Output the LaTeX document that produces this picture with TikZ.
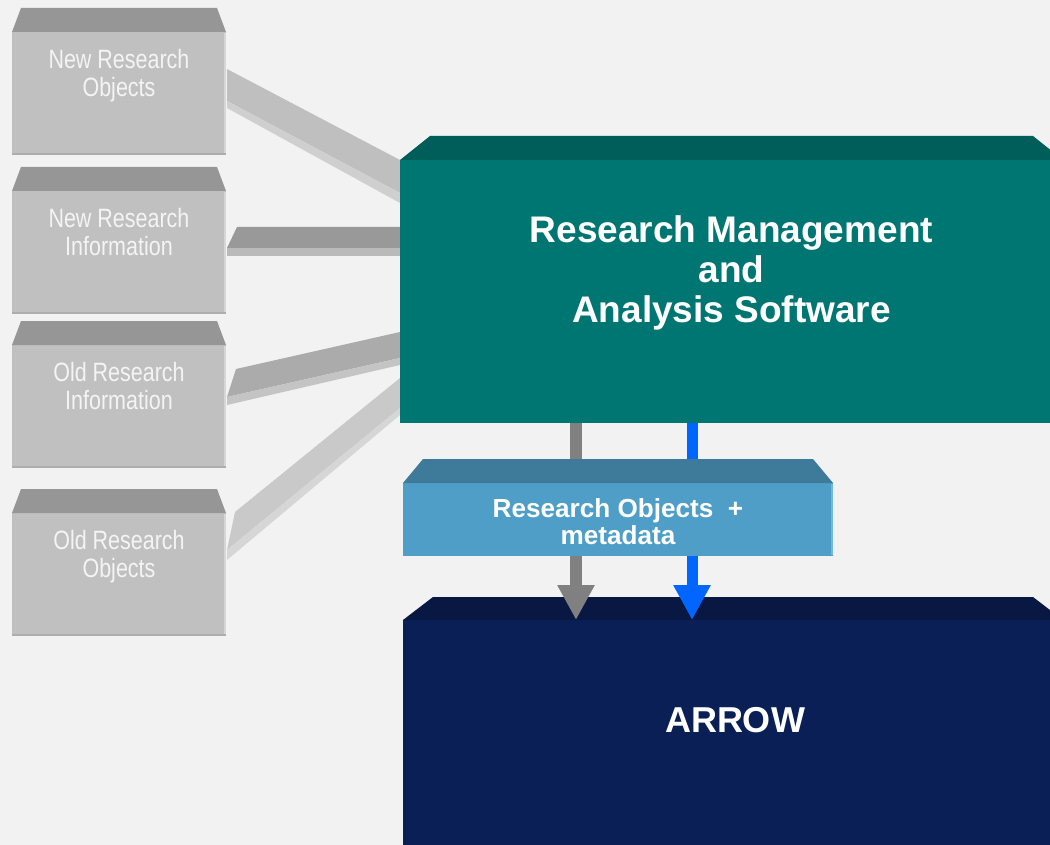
\documentclass[tikz,border=0pt]{standalone}
\usepackage{fontspec}
\setmainfont{Liberation Sans}
\newfontfamily\narrowfont[FakeStretch=0.81]{Liberation Sans}
\usepackage{tikz}
\usetikzlibrary{calc, arrows.meta, positioning}

\definecolor{bggrey}{HTML}{F2F2F2}
\definecolor{srcface}{HTML}{C0C0C0}
\definecolor{srctop}{HTML}{969696}
\definecolor{srcedge}{HTML}{D6D6D6}
\definecolor{srcfoot}{HTML}{ADADAD}
\definecolor{srctext}{HTML}{F4F4F4}
\definecolor{rmasface}{HTML}{007672}
\definecolor{rmastop}{HTML}{005E5A}
\definecolor{romface}{HTML}{4F9EC7}
\definecolor{romtop}{HTML}{3E7A99}
\definecolor{romedge}{HTML}{6CB8E8}
\definecolor{arwface}{HTML}{0A1F55}
\definecolor{arwtop}{HTML}{081842}
\definecolor{flowgrey}{HTML}{808080}
\definecolor{flowblue}{HTML}{0066FF}

\pgfdeclarelayer{backdrop}
\pgfdeclarelayer{bands}
\pgfsetlayers{backdrop,bands,main}

\begin{document}
\begin{tikzpicture}[x=0.75pt, y=-0.75pt,
    face/.style={rectangle, inner sep=0pt, outer sep=0pt, anchor=north west},
    srcbox/.style={face, fill=srcface, minimum width=160.5pt, minimum height=92.25pt},
    srclabel/.style={anchor=north, inner sep=0pt, align=center, text=srctext,
      font=\narrowfont\fontsize{19.9pt}{21pt}\selectfont},
    boldlabel/.style={anchor=north, inner sep=0pt, align=center, text=white,
      font=\bfseries\fontsize{27.75pt}{30pt}\selectfont},
    flowtip/.style={-{Triangle[length=26.25pt, width=26.25pt]}}
  ]
  \begin{pgfonlayer}{backdrop}
    \fill[bggrey] (0,0) rectangle (1050,845);
  \end{pgfonlayer}
  \useasboundingbox (0,0) rectangle (1050,845);
  \clip (0,0) rectangle (1050,845);

  % sources on the left
  \node[srcbox] (nro) at (12,32)  {};
  \node[srcbox] (nri) at (12,191) {};
  \node[srcbox] (ori) at (12,345) {};
  \node[srcbox] (oro) at (12,513) {};
  \foreach \s in {nro,nri,ori,oro} {
    \fill[srctop] (\s.north west) -- ++(9,-24) -- ++(196,0) -- (\s.north east) -- cycle;
    \draw[srcedge, line width=1.5pt] ([shift={(-1,1)}]\s.north east) -- ([shift={(-1,-2)}]\s.south east);
    \draw[srcfoot, line width=1.5pt] ([shift={(0,-1)}]\s.south west) -- ([shift={(0,-1)}]\s.south east);
  }
  \node[srclabel] (nrotext) at ([shift={(0,17)}]nro.north) {New Research\\Objects};
  \node[srclabel] (nritext) at ([shift={(0,17)}]nri.north) {New Research\\Information};
  \node[srclabel] (oritext) at ([shift={(0,17)}]ori.north) {Old Research\\Information};
  \node[srclabel] (orotext) at ([shift={(0,17)}]oro.north) {Old Research\\Objects};

  % software
  \node[face, fill=rmasface, minimum width=497.25pt, minimum height=197.25pt] (rmas) at (400,160) {};
  \fill[rmastop] (rmas.north west) -- ++(30,-24) -- ++(603,0) -- (rmas.north east) -- cycle;
  \node[boldlabel] (rmastext) at ([shift={(0,55)}]rmas.north) {Research Management\\and\\Analysis Software};

  % ARROW
  \node[face, fill=arwface, minimum width=495pt, minimum height=187.5pt] (arw) at (403,620) {};
  \fill[arwtop] (arw.north west) -- ++(30,-23) -- ++(600,0) -- (arw.north east) -- cycle;
  \node[boldlabel, font=\bfseries\fontsize{27pt}{30pt}\selectfont] (arwtext) at ([shift={(2,87)}]arw.north) {ARROW};

  \draw[flowgrey, line width=9pt, flowtip] ([shift={(176,0)}]rmas.south west) -- ([shift={(173,0)}]arw.north west);
  \draw[flowblue, line width=8.25pt, flowtip] ([shift={(292,0)}]rmas.south west) -- ([shift={(289,0)}]arw.north west);

  % research objects + metadata
  \node[face, fill=romface, minimum width=322.5pt, minimum height=54.75pt] (rom) at (403,483) {};
  \fill[romtop] (rom.north west) -- ++(20,-24) -- ++(390,0) -- (rom.north east) -- cycle;
  \draw[romedge, line width=1.5pt] ([shift={(-1,1)}]rom.north east) -- ([shift={(-1,-1)}]rom.south east);
  \node[boldlabel, font=\bfseries\fontsize{19.6pt}{20.25pt}\selectfont] (romtext) at ([shift={(0,15)}]rom.north) {Research Objects\ \ +\\metadata};

  % bands into the software
  \begin{pgfonlayer}{bands}
    \fill[black!25] ([shift={(1,37)}]nro.north east) -- (rmas.north west)
      -- ([shift={(0,33)}]rmas.north west) -- ([shift={(1,69)}]nro.north east) -- cycle;
    \fill[black!19] ([shift={(1,69)}]nro.north east) -- ([shift={(0,33)}]rmas.north west)
      -- ([shift={(0,43)}]rmas.north west) -- ([shift={(1,76)}]nro.north east) -- cycle;
    \fill[black!40] ([shift={(11,36)}]nri.north east) -- ([shift={(0,67)}]rmas.north west)
      -- ([shift={(0,88)}]rmas.north west) -- ([shift={(1,57)}]nri.north east) -- cycle;
    \fill[black!27] ([shift={(1,57)}]nri.north east) -- ([shift={(0,88)}]rmas.north west)
      -- ([shift={(0,96)}]rmas.north west) -- ([shift={(1,65)}]nri.north east) -- cycle;
    \fill[black!33] ([shift={(10,24)}]ori.north east) -- ([shift={(0,172)}]rmas.north west)
      -- ([shift={(0,198)}]rmas.north west) -- ([shift={(1,52)}]ori.north east) -- cycle;
    \fill[black!23] ([shift={(1,52)}]ori.north east) -- ([shift={(0,198)}]rmas.north west)
      -- ([shift={(0,205)}]rmas.north west) -- ([shift={(1,60)}]ori.north east) -- cycle;
    \fill[black!21] ([shift={(9,-1)}]oro.north east) -- ([shift={(0,218)}]rmas.north west)
      -- ([shift={(0,248)}]rmas.north west) -- ([shift={(1,37)}]oro.north east) -- cycle;
    \fill[black!16] ([shift={(1,37)}]oro.north east) -- ([shift={(0,248)}]rmas.north west)
      -- ([shift={(0,255)}]rmas.north west) -- ([shift={(1,47)}]oro.north east) -- cycle;
  \end{pgfonlayer}
\end{tikzpicture}
\end{document}
